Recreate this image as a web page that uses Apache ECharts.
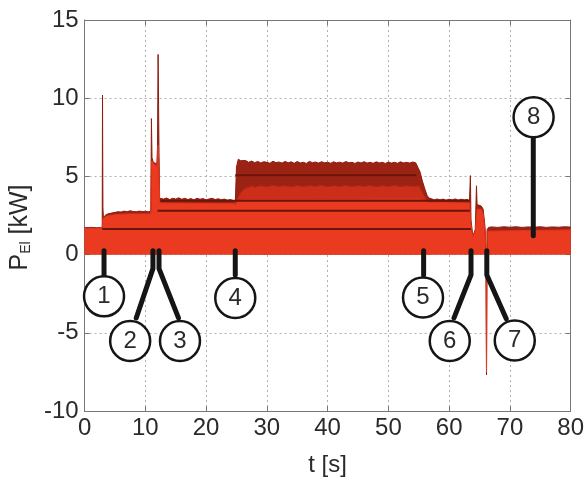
<!DOCTYPE html>
<html>
<head>
<meta charset="utf-8">
<script src="https://cdn.jsdelivr.net/npm/echarts@6/dist/echarts.min.js"></script>
<style>html,body{margin:0;padding:0;background:#fff}#c{width:587px;height:482px}</style>
</head>
<body>
<div id="c"></div>
<script>
// x ticks / y ticks
const xTicks = [0, 10, 20, 30, 40, 50, 60, 70, 80];
const yTicks = [-10, -5, 0, 5, 10, 15];

// total electric power (top envelope) [t s, kW]
const totalPower = [
  [0,1.72],[1,1.74],[2,1.72],[2.9,1.72],[2.95,10.2],[3.02,3.0],[3.1,2.35],[3.5,2.55],[4,2.62],[4.5,2.66],
  [5,2.7],[5.5,2.74],[6,2.72],[6.5,2.78],[7,2.74],[7.5,2.8],[8,2.76],[8.5,2.74],[9,2.78],[9.5,2.75],
  [10,2.77],[10.5,2.74],[10.9,2.76],[11.0,8.7],[11.1,6.2],[11.3,5.9],[11.6,5.85],[11.9,5.8],[12.0,6.8],[12.1,12.8],
  [12.25,6.5],[12.35,3.6],[12.6,3.7],[13,3.55],[13.5,3.62],[14,3.52],[14.5,3.6],[15,3.55],[15.5,3.63],[16,3.54],
  [16.5,3.6],[17,3.52],[17.5,3.58],[18,3.5],[18.5,3.6],[19,3.54],[19.5,3.58],[20,3.5],[20.5,3.56],[21,3.6],
  [21.5,3.52],[22,3.57],[22.5,3.5],[23,3.55],[23.5,3.48],[24,3.52],[24.5,3.45],[24.8,3.3],[25.0,5.6],[25.3,6.1],
  [25.7,6.0],[26,5.95],[26.5,6.02],[27,5.9],[27.5,5.98],[28,5.88],[28.5,5.96],[29,5.86],[29.5,5.94],[30,5.9],
  [30.5,5.84],[31,5.97],[31.5,5.88],[32,5.92],[32.5,5.85],[33,5.96],[33.5,5.87],[34,5.93],[34.5,5.84],[35,5.95],
  [35.5,5.86],[36,5.9],[36.5,5.83],[37,5.96],[37.5,5.88],[38,5.92],[38.5,5.85],[39,5.94],[39.5,5.87],[40,5.9],
  [40.5,5.84],[41,5.93],[41.5,5.86],[42,5.91],[42.5,5.85],[43,5.95],[43.5,5.87],[44,5.9],[44.5,5.83],[45,5.92],
  [45.5,5.86],[46,5.94],[46.5,5.85],[47,5.9],[47.5,5.84],[48,5.93],[48.5,5.86],[49,5.9],[49.5,5.83],[50,5.92],
  [50.5,5.85],[51,5.9],[51.5,5.84],[52,5.93],[52.5,5.86],[53,5.9],[53.5,5.85],[54,5.92],[54.5,5.87],[54.8,5.8],
  [55.2,5.3],[55.6,4.7],[56,4.2],[56.4,3.75],[56.8,3.6],[57.2,3.55],[57.6,3.5],[58,3.56],[58.5,3.5],[59,3.55],
  [59.5,3.48],[60,3.54],[60.5,3.5],[61,3.56],[61.5,3.49],[62,3.54],[62.5,3.5],[63,3.53],[63.35,3.45],[63.5,5.05],
  [63.6,2.2],[63.9,1.2],[64.3,1.6],[64.5,4.4],[64.6,3.2],[64.9,3.15],[65.3,3.1],[65.6,2.9],[65.9,1.8],[66.05,0.5],
  [66.15,-7.7],[66.25,1.6],[66.5,1.74],[67,1.77],[68,1.74],[69,1.78],[70,1.75],[71,1.78],[72,1.74],[73,1.77],
  [74,1.75],[75,1.78],[76,1.74],[77,1.77],[78,1.75],[79,1.78],[80,1.76]
];

// intermediate layer during full load phase [t s, kW]
const midLayer = [
  [24.85,3.2],[25.3,3.7],[25.8,4.0],[26.3,4.2],[27,4.3],[27.5,4.38],[28,4.3],[29,4.4],[30,4.33],[31,4.42],
  [32,4.35],[33,4.4],[34,4.32],[35,4.41],[36,4.34],[37,4.4],[38,4.36],[39,4.42],[40,4.33],[41,4.4],
  [42,4.35],[43,4.42],[44,4.34],[45,4.4],[46,4.36],[47,4.41],[48,4.33],[49,4.4],[50,4.35],[51,4.42],
  [52,4.34],[53,4.4],[54,4.36],[55,4.38],[55.3,4.2],[55.8,3.8],[56.3,3.5],[56.8,3.3]
];

// base (bright) layer [t s, kW]
const baseLayer = [
  [0,1.68],[2.9,1.68],[3.0,2.3],[3.5,2.45],[5,2.55],[7,2.6],[10.9,2.6],[11.0,6.0],[11.9,5.6],[12.1,7.0],
  [12.25,5.5],[12.35,3.3],[24.8,3.25],[25.2,3.4],[26,3.5],[55,3.55],[56.5,3.35],[63.35,3.3],[63.5,3.3],[63.6,1.9],
  [63.9,1.1],[64.3,1.5],[64.6,2.9],[65.3,2.9],[65.6,2.6],[65.9,1.5],[66.05,0.3],[66.15,-7.5],[66.25,1.5],[80,1.58]
];

// mean level lines [tStart, tEnd, kW]
const meanLevels = [
  [2.9, 63.6, 1.63],
  [12.0, 63.4, 2.8],
  [12.5, 63.4, 3.44],
  [24.8, 54.6, 5.07]
];

// numbered markers [t, kW, label]
const markers = [
  [3.2, -2.67, '1'], [7.5, -5.53, '2'], [15.7, -5.53, '3'], [24.8, -2.77, '4'],
  [55.7, -2.74, '5'], [60.1, -5.53, '6'], [70.8, -5.49, '7'], [73.9, 8.78, '8']
];

// leader lines from markers to events
const leaders = [
  [[3.2,0.25],[3.2,-1.3]],
  [[11.25,0.25],[11.25,-0.9],[8.5,-4.05]],
  [[12.25,0.25],[12.25,-0.9],[15.45,-4.05]],
  [[24.8,0.25],[24.8,-1.3]],
  [[55.8,0.25],[55.8,-1.3]],
  [[63.6,0.25],[63.6,-1.3],[60.8,-4.05]],
  [[66.2,0.25],[66.2,-1.3],[69.4,-4.1]],
  [[73.85,7.4],[73.85,1.2]]
];

const FONT = 'Liberation Sans, Arial, Helvetica, sans-serif';
const chart = echarts.init(document.getElementById('c'), null, {renderer: 'canvas'});

const series = [
  {type:'line', data: totalPower, showSymbol:false, symbol:'none', xAxisIndex:0, yAxisIndex:0,
   lineStyle:{color:'#8c1d10', width:1}, areaStyle:{color:'#9c2313', origin:0, opacity:1}, z:2},
  {type:'line', data: midLayer, showSymbol:false, symbol:'none',
   lineStyle:{color:'#b52816', width:1}, areaStyle:{color:'#cc2f19', origin:0, opacity:1}, z:2},
  {type:'line', data: baseLayer, showSymbol:false, symbol:'none',
   lineStyle:{color:'#e23620', width:1}, areaStyle:{color:'#ea3a20', origin:0, opacity:1}, z:2}
];
meanLevels.forEach(m => series.push({
  type:'line', data:[[m[0], m[2]], [m[1], m[2]]], showSymbol:false, symbol:'none',
  lineStyle:{color:'#6a150b', width:2}, z:3
}));
leaders.forEach(l => series.push({
  type:'line', data:l, showSymbol:false, symbol:'none',
  lineStyle:{color:'#151515', width:5, cap:'round', join:'round'}, z:4
}));
series.push({
  type:'scatter', data: markers, symbol:'circle', symbolSize:40, z:5,
  itemStyle:{color:'#ffffff', borderColor:'#151515', borderWidth:2.5, opacity:1},
  label:{show:true, position:'inside', formatter: p => p.value[2], fontSize:24, color:'#2a2a2a', fontFamily:FONT}
});

const axisCommon = {
  axisLine:{show:true, onZero:false, lineStyle:{color:'#777', width:1}},
  axisTick:{show:true, inside:true, length:5, lineStyle:{color:'#777'}}
};

chart.setOption({
  animation:false,
  backgroundColor:'#ffffff',
  grid:{left:74, right:15, top:20, bottom:69, containLabel:false},
  xAxis:[
    Object.assign({type:'value', min:xTicks[0], max:xTicks[xTicks.length-1], interval:10, position:'bottom',
      name:'t [s]', nameLocation:'middle', nameGap:42,
      nameTextStyle:{fontSize:24, color:'#2a2a2a', fontFamily:FONT},
      axisLabel:{fontSize:24, color:'#2a2a2a', fontFamily:FONT, margin:5},
      splitLine:{show:true, lineStyle:{color:'#b0b0b0', type:[2,3], width:1}}}, axisCommon),
    Object.assign({type:'value', min:xTicks[0], max:xTicks[xTicks.length-1], interval:10, position:'top',
      axisLabel:{show:false}, splitLine:{show:false}}, axisCommon)
  ],
  yAxis:[
    Object.assign({type:'value', min:yTicks[0], max:yTicks[yTicks.length-1], interval:5, position:'left',
      name:'{p|P}{s|El}{p| [kW]}', nameLocation:'middle', nameGap:44,
      nameTextStyle:{padding:[0,24,0,0], rich:{
        p:{fontSize:25, color:'#2a2a2a', fontFamily:FONT},
        s:{fontSize:14, color:'#2a2a2a', fontFamily:FONT, verticalAlign:'bottom', padding:[10,0,0,0]}
      }},
      axisLabel:{fontSize:24, color:'#2a2a2a', fontFamily:FONT, margin:6},
      splitLine:{show:true, lineStyle:{color:'#b0b0b0', type:[2,3], width:1}}}, axisCommon),
    Object.assign({type:'value', min:yTicks[0], max:yTicks[yTicks.length-1], interval:5, position:'right',
      axisLabel:{show:false}, splitLine:{show:false}}, axisCommon)
  ],
  series: series
});
</script>
</body>
</html>
